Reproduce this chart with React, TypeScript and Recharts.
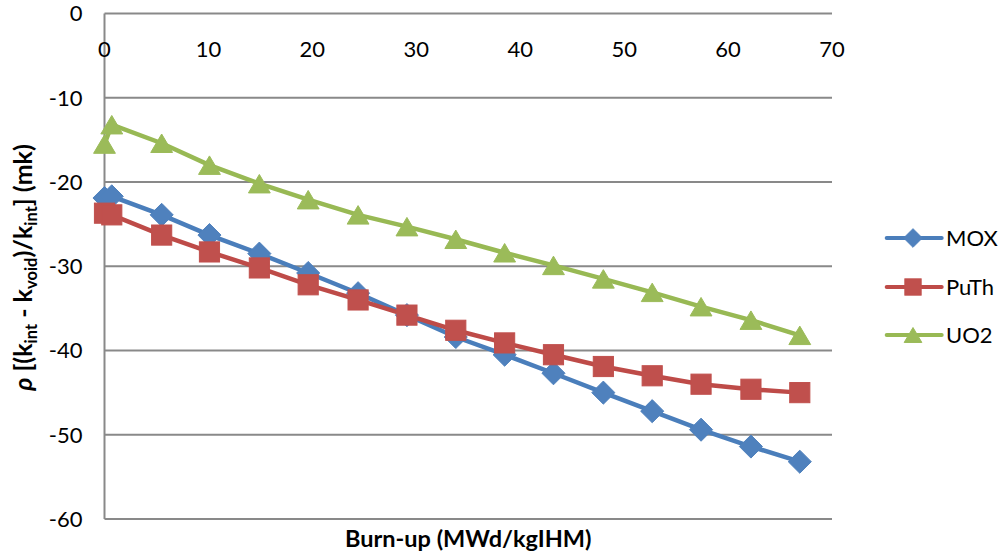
import React from 'react';
import { LineChart, Line, XAxis, YAxis, CartesianGrid } from 'recharts';

const burnup = [0, 0.7, 5.5, 10.1, 14.9, 19.6, 24.4, 29.1, 33.8, 38.5, 43.2, 48.0, 52.7, 57.4, 62.2, 66.9];
const mox = [-21.9, -21.7, -23.9, -26.3, -28.5, -30.8, -33.2, -35.8, -38.4, -40.5, -42.7, -45.0, -47.2, -49.4, -51.4, -53.2];
const puth = [-23.7, -23.9, -26.3, -28.3, -30.2, -32.2, -34.0, -35.8, -37.6, -39.1, -40.5, -41.9, -43.0, -44.0, -44.6, -45.0];
const uo2 = [-15.5, -13.2, -15.4, -18.0, -20.2, -22.1, -23.9, -25.3, -26.8, -28.4, -29.9, -31.5, -33.1, -34.8, -36.4, -38.2];

const seriesNames = ['MOX', 'PuTh', 'UO2'];
const xTicks = [0, 10, 20, 30, 40, 50, 60, 70];
const yTicks = [0, -10, -20, -30, -40, -50, -60];
const xLabel = 'Burn-up (MWd/kgIHM)';

const data = burnup.map((b, i) => ({ burnup: b, MOX: mox[i], PuTh: puth[i], UO2: uo2[i] }));

const FONT = 'Lato, "Open Sans", sans-serif';
const GRID = '#898989';

const COLORS: Record<string, { line: string; fill: string }> = {
  MOX: { line: '#4A7EBB', fill: '#4F81BD' },
  PuTh: { line: '#BE4B48', fill: '#C0504D' },
  UO2: { line: '#98B954', fill: '#9BBB59' },
};

function Marker({ name, cx, cy, s }: { name: string; cx: number; cy: number; s: number }) {
  const c = COLORS[name];
  if (name === 'MOX') {
    const h = s * 0.55;
    return <path d={`M${cx},${cy - h} L${cx + h},${cy} L${cx},${cy + h} L${cx - h},${cy} Z`} fill={c.fill} stroke={c.fill} strokeWidth={1} />;
  }
  if (name === 'PuTh') {
    const h = s * 0.48;
    return <rect x={cx - h} y={cy - h} width={2 * h} height={2 * h} fill={c.fill} stroke={c.fill} strokeWidth={1} />;
  }
  const w = s * 0.52;
  const hh = s * 0.44;
  return <path d={`M${cx},${cy - hh} L${cx + w},${cy + hh} L${cx - w},${cy + hh} Z`} fill={c.fill} stroke={c.fill} strokeWidth={1} />;
}

const makeDot = (name: string) => (props: any) => {
  const { cx, cy, index } = props;
  if (cx == null || cy == null) return <g key={`${name}-${index}`} />;
  return (
    <g key={`${name}-${index}`}>
      <Marker name={name} cx={cx} cy={cy} s={21} />
    </g>
  );
};

const TopTick = (props: any) => {
  const { x, y, payload } = props;
  return (
    <text x={x} y={y + 43} textAnchor="middle" fontFamily={FONT} fontSize={22} fill="#000">
      {payload.value}
    </text>
  );
};

const YLabel = () => (
  <text transform="translate(32, 267.5) rotate(-90)" x={0} y={0} textAnchor="middle" fontFamily={FONT} fontWeight="bold" fontSize={25} fill="#000">
    <tspan fontStyle="italic">ρ</tspan>
    <tspan> [(k</tspan>
    <tspan dy={5} fontSize={16.5}>int</tspan>
    <tspan dy={-5}> - k</tspan>
    <tspan dy={5} fontSize={16.5}>void</tspan>
    <tspan dy={-5}>)/k</tspan>
    <tspan dy={5} fontSize={16.5}>int</tspan>
    <tspan dy={-5}>] (mk)</tspan>
  </text>
);

const XLabel = (props: any) => {
  const vb = props.viewBox || {};
  const cx = (vb.x ?? 104.5) + (vb.width ?? 727.5) / 2;
  return (
    <text x={cx} y={547} textAnchor="middle" fontFamily={FONT} fontWeight="bold" fontSize={23.5} fill="#000">
      {xLabel}
    </text>
  );
};

const LegendBox = () => (
  <div style={{ position: 'absolute', left: 880, top: 214, width: 123, fontFamily: FONT }}>
    {seriesNames.map((n) => (
      <div key={n} style={{ display: 'flex', alignItems: 'center', height: 48.5 }}>
        <svg width={66} height={24} style={{ display: 'block' }}>
          <line x1={6.7} x2={61.7} y1={12} y2={12} stroke={COLORS[n].line} strokeWidth={4} strokeLinecap="round" />
          <Marker name={n} cx={33} cy={12} s={17} />
        </svg>
        <span style={{ fontSize: 22, color: '#000', lineHeight: '24px' }}>{n}</span>
      </div>
    ))}
  </div>
);

export default function App() {
  return (
    <div style={{ position: 'absolute', left: 0, top: 0, width: 1003, height: 556, background: '#fff' }}>
      <LineChart width={1003} height={556} data={data} margin={{ top: 0, right: 171, bottom: 0, left: 0 }}>
        <CartesianGrid xAxisId="top" horizontal={true} vertical={false} stroke={GRID} strokeWidth={2} />
        <XAxis
          xAxisId="top"
          dataKey="burnup"
          type="number"
          orientation="top"
          domain={[0, 70]}
          ticks={xTicks}
          height={13.5}
          tickSize={0}
          tickMargin={0}
          axisLine={false}
          tickLine={false}
          tick={<TopTick />}
          interval={0}
        />
        <XAxis
          xAxisId="bottom"
          dataKey="burnup"
          type="number"
          orientation="bottom"
          domain={[0, 70]}
          height={37}
          axisLine={false}
          tickLine={false}
          tick={false}
          label={<XLabel />}
        />
        <YAxis
          type="number"
          domain={[-60, 0]}
          ticks={yTicks}
          width={104.5}
          axisLine={{ stroke: GRID, strokeWidth: 2 }}
          tickLine={false}
          tickSize={0}
          tickMargin={22}
          tick={{ fill: '#000', fontSize: 22, fontFamily: FONT }}
          interval={0}
          label={<YLabel />}
        />
        {seriesNames.map((n) => (
          <Line
            key={n}
            xAxisId="top"
            type="linear"
            dataKey={n}
            stroke={COLORS[n].line}
            strokeWidth={4.5}
            dot={makeDot(n)}
            activeDot={false}
            isAnimationActive={false}
          />
        ))}
      </LineChart>
      <LegendBox />
    </div>
  );
}
